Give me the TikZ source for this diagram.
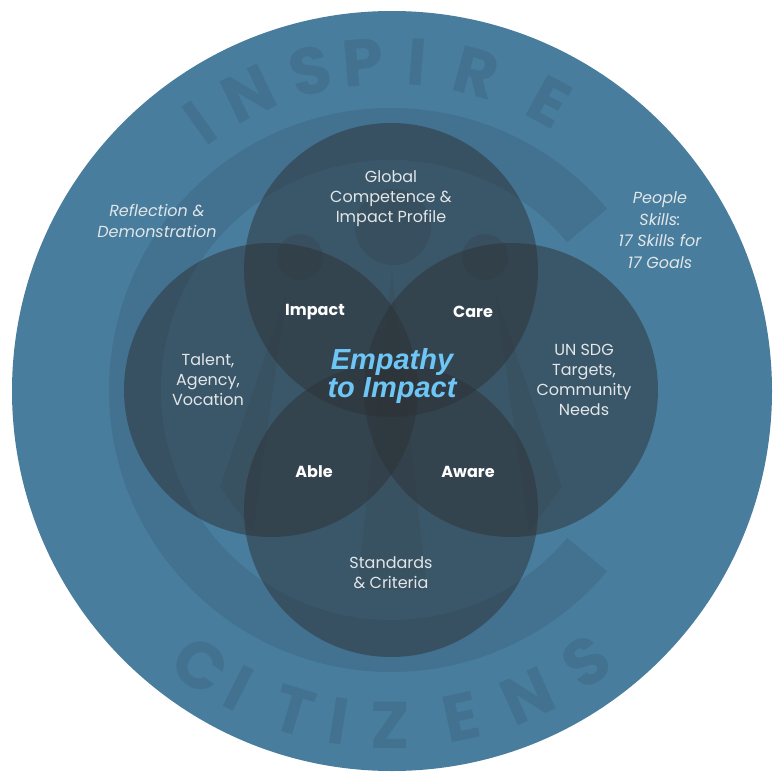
\documentclass[tikz,border=0pt]{standalone}
\usepackage{fontspec}
\setmainfont{Poppins}
\newfontfamily\arialfont{Liberation Sans}
\usetikzlibrary{positioning}
\definecolor{ringblue}{HTML}{487D9D}
\definecolor{logoblue}{HTML}{427290}
\definecolor{setgray}{HTML}{2E3236}
\definecolor{labelgray}{HTML}{E2E6E8}
\definecolor{empathyblue}{HTML}{6EC6F6}

\begin{document}
\begin{tikzpicture}[x=1pt,y=-1pt,node distance=118pt,
                    set node/.style={circle,fill=setgray,fill opacity=0.5,minimum size=294pt,inner sep=0pt},
                    area text/.style={text=labelgray,align=center,font=\fontsize{16}{20}\selectfont},
                    side text/.style={text=labelgray,align=center,font=\fontsize{16}{21.5}\selectfont\itshape},
                    meet text/.style={text=white,font=\fontsize{16}{18}\selectfont\bfseries},
                    logo letter/.style={text=logoblue,inner sep=0pt,font=\fontsize{66}{66}\selectfont\bfseries}]

 \useasboundingbox (0,0) rectangle (784,773);
 \fill[ringblue] (392,391) circle (380pt);

 % the logo behind the sets
 \coordinate (c) at (391,390);
 \fill[logoblue] (c) ++(40:282pt) arc[start angle=40,end angle=320,radius=282pt]
   -- ++(140:52pt) arc[start angle=320,end angle=40,radius=230pt] -- cycle;
 \fill[setgray,opacity=0.2] (300,257) circle (23pt) (393,227) circle (38pt) (485,257) circle (23pt);
 \fill[setgray,opacity=0.12] (287,292) -- (220,487) -- (253,532) -- cycle
   (495,292) -- (562,487) -- (529,532) -- cycle
   (392,270) -- (357,590) -- (427,590) -- cycle;

 \foreach \ch/\a [count=\i] in {I/125.6,N/115.7,S/104.2,P/94.9,I/85.5,R/74.9,E/61.3}
   \node[logo letter,rotate=\a-90] (inspire\i) at ({391+329*cos(\a)},{390-329*sin(\a)}) {\ch};
 \foreach \ch/\a [count=\i] in {C/235.4,I/243,T/253.1,I/261,Z/269.8,E/282.1,N/294,S/305.7}
   \node[logo letter,rotate=\a-270] (citizens\i) at ({391+335*cos(\a)},{390-335*sin(\a)}) {\ch};

 % the four sets
 \node[set node] (top) [above of=c, yshift=2pt] {};
 \node[set node] (left) [left of=c, xshift=-2pt] {};
 \node[set node] (right) [right of=c, xshift=2pt] {};
 \node[set node] (bottom) [below of=c, yshift=-2pt] {};

 \node[area text] (global) at (391,199) {Global\\Competence \&\\Impact Profile};
 \node[area text] (talent) at (208,380) {Talent,\\Agency,\\Vocation};
 \node[area text] (sdg) at (584,380) {UN SDG\\Targets,\\Community\\Needs};
 \node[area text] (standards) at (391,573) {Standards\\\& Criteria};

 \node[side text] (reflection) at (157,221) {Reflection \&\\Demonstration};
 \node[side text] (people) at (660,230) {People\\Skills:\\17 Skills for\\17 Goals};

 \node[meet text] (impact) at (315,312) {Impact};
 \node[meet text] (care) at (473,312) {Care};
 \node[meet text] (able) at (314,472) {Able};
 \node[meet text] (aware) at (468,472) {Aware};

 \node[text=empathyblue,align=center,font=\arialfont\bfseries\itshape\fontsize{29}{28}\selectfont] (empathy) at (392,376) {Empathy\\to Impact};

\end{tikzpicture}
\end{document}
